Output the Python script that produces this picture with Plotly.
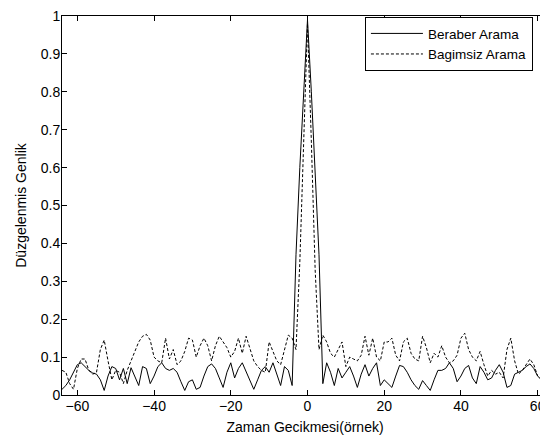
import plotly.graph_objects as go

lags = list(range(-64, 65))

beraber = [
    0.015, 0.025, 0.040, 0.060, 0.080, 0.085, 0.075, 0.065, 0.058, 0.055,   # -64..-55
    0.040, 0.012, 0.050, 0.075, 0.070, 0.040, 0.070, 0.030, 0.072, 0.050,   # -54..-45
    0.025, 0.075, 0.070, 0.030, 0.050, 0.075, 0.085, 0.070, 0.065, 0.070,   # -44..-35
    0.060, 0.035, 0.012, 0.035, 0.040, 0.015, 0.020, 0.050, 0.075, 0.082,   # -34..-25
    0.070, 0.045, 0.020, 0.060, 0.085, 0.045, 0.070, 0.085, 0.060, 0.035,   # -24..-15
    0.015, 0.040, 0.065, 0.075, 0.060, 0.085, 0.055, 0.025, 0.075, 0.065,   # -14..-5
    0.025, 0.370, 0.600, 0.800, 0.990, 0.800, 0.600, 0.370, 0.030, 0.085,   # -4..5
    0.060, 0.025, 0.070, 0.045, 0.060, 0.075, 0.050, 0.020, 0.055, 0.080,   # 6..15
    0.050, 0.070, 0.085, 0.025, 0.040, 0.030, 0.020, 0.050, 0.078, 0.075,   # 16..25
    0.060, 0.040, 0.025, 0.015, 0.038, 0.025, 0.012, 0.040, 0.065, 0.065,   # 26..35
    0.070, 0.085, 0.070, 0.035, 0.050, 0.070, 0.078, 0.045, 0.030, 0.075,   # 36..45
    0.060, 0.040, 0.045, 0.065, 0.080, 0.060, 0.020, 0.025, 0.055, 0.060,   # 46..55
    0.065, 0.075, 0.082, 0.070, 0.050, 0.040, 0.030, 0.055, 0.060,          # 56..64
]

bagimsiz = [
    0.065, 0.060, 0.030, 0.015, 0.070, 0.095, 0.095, 0.065, 0.055, 0.060,   # -64..-55
    0.120, 0.145, 0.090, 0.040, 0.065, 0.060, 0.030, 0.065, 0.090, 0.115,   # -54..-45
    0.140, 0.155, 0.160, 0.145, 0.100, 0.090, 0.085, 0.150, 0.095, 0.120,   # -44..-35
    0.080, 0.090, 0.115, 0.150, 0.145, 0.100, 0.130, 0.150, 0.130, 0.090,   # -34..-25
    0.130, 0.155, 0.140, 0.125, 0.100, 0.115, 0.150, 0.110, 0.155, 0.120,   # -24..-15
    0.090, 0.075, 0.065, 0.060, 0.140, 0.115, 0.090, 0.080, 0.120, 0.158,   # -14..-5
    0.150, 0.120, 0.350, 0.670, 0.980, 0.670, 0.330, 0.120, 0.158, 0.140,   # -4..5
    0.110, 0.100, 0.120, 0.140, 0.075, 0.100, 0.095, 0.090, 0.105, 0.155,   # 6..15
    0.105, 0.150, 0.100, 0.090, 0.140, 0.140, 0.150, 0.105, 0.090, 0.140,   # 16..25
    0.150, 0.110, 0.095, 0.090, 0.155, 0.125, 0.085, 0.110, 0.100, 0.130,   # 26..35
    0.100, 0.085, 0.090, 0.105, 0.150, 0.163, 0.120, 0.100, 0.090, 0.115,   # 36..45
    0.080, 0.050, 0.065, 0.055, 0.060, 0.045, 0.120, 0.150, 0.090, 0.055,   # 46..55
    0.065, 0.080, 0.095, 0.080, 0.050, 0.040, 0.055, 0.065, 0.070,          # 56..64
]

x_ticks = [-60, -40, -20, 0, 20, 40, 60]
y_ticks = [0, 0.1, 0.2, 0.3, 0.4, 0.5, 0.6, 0.7, 0.8, 0.9, 1]
y_tick_text = ["0", "0.1", "0.2", "0.3", "0.4", "0.5", "0.6", "0.7", "0.8", "0.9", "1"]

FONT = "Liberation Sans, Arial, sans-serif"
FS = 14

fig = go.Figure()
fig.add_trace(go.Scatter(x=lags, y=beraber, mode="lines", name="Beraber Arama",
                         line=dict(color="black", width=1)))
fig.add_trace(go.Scatter(x=lags, y=bagimsiz, mode="lines", name="Bagimsiz Arama",
                         line=dict(color="black", width=1, dash="3px,2px")))

# page has an 8px body margin, so the figure is 540x432
fig.update_layout(
    width=540, height=432,
    margin=dict(l=54, r=0, t=5, b=45),
    paper_bgcolor="white", plot_bgcolor="white",
    font=dict(family=FONT, size=FS, color="black"),
    showlegend=True,
    legend=dict(x=0.969, y=0.997, xanchor="right", yanchor="top",
                bordercolor="black", borderwidth=1, bgcolor="white",
                font=dict(family=FONT, size=13.5, color="black"),
                tracegroupgap=0, itemwidth=52),
    xaxis=dict(range=[-64, 62.7], tickvals=x_ticks, ticks="inside", ticklen=5,
               tickcolor="black", showline=True, linecolor="black", linewidth=1,
               mirror="ticks", showgrid=False, zeroline=False,
               ticklabeloverflow="allow",
               title=dict(text="Zaman Gecikmesi(örnek)", standoff=9,
                          font=dict(family=FONT, size=FS)),
               ticklabelstandoff=-2),
    yaxis=dict(range=[0, 1], tickvals=y_ticks, ticktext=y_tick_text,
               ticks="inside", ticklen=5, tickcolor="black",
               showline=True, linecolor="black", linewidth=1, mirror=False,
               showgrid=False, zeroline=False,
               ticklabeloverflow="allow",
               title=dict(text="Düzgelenmis Genlik", standoff=10,
                          font=dict(family=FONT, size=FS)),
               ticklabelstandoff=-2),
)

fig.write_html("out.html")
